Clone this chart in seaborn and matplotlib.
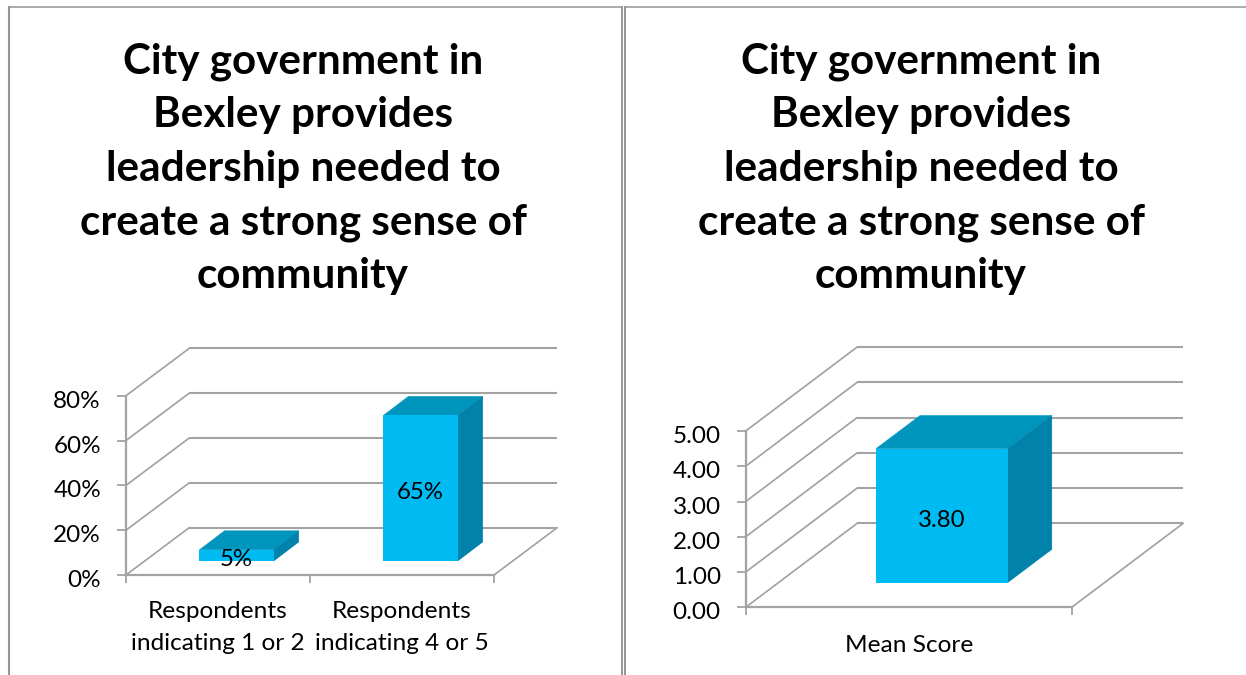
import matplotlib
matplotlib.use("Agg")
import matplotlib.pyplot as plt
import seaborn as sns
import pandas as pd
from matplotlib.lines import Line2D
from matplotlib.patches import Polygon
from matplotlib.transforms import Affine2D, IdentityTransform

W, H = 1246, 675
TITLE = "City government in\nBexley provides\nleadership needed to\ncreate a strong sense of\ncommunity"

left_categories = ["Respondents\nindicating 1 or 2", "Respondents\nindicating 4 or 5"]
left_values = [5, 65]
left_ticks = [0, 20, 40, 60, 80]
left_tick_labels = ["0%", "20%", "40%", "60%", "80%"]
left_bar_labels = ["5%", "65%"]

right_categories = ["Mean Score"]
right_values = [3.80]
right_ticks = [0, 1, 2, 3, 4, 5]
right_tick_labels = ["0.00", "1.00", "2.00", "3.00", "4.00", "5.00"]
right_bar_labels = ["3.80"]

FRONT, TOP, SIDE = "#00BBF2", "#0095BD", "#0082AA"
GRID = "#A3A3A3"
BORDER = "#959595"
FONT = "Lato"

sns.set_theme(style="white")
plt.rcParams["font.family"] = [FONT, "DejaVu Sans"]

fig = plt.figure(figsize=(W / 100, H / 100), dpi=100, facecolor="white")


def panel(cats, vals, ticks, tick_labels, bar_labels, box, wall, base, depth, title_x, xlab_pad):
    x0, x1, y_top, y_bot = box
    ax = fig.add_axes([x0 / W, 1 - y_bot / H, (x1 - x0) / W, (y_bot - y_top) / H])
    ax.patch.set_alpha(0)
    df = pd.DataFrame({"cat": cats, "val": vals})
    sns.barplot(data=df, x="cat", y="val", color=FRONT, saturation=1, width=0.404,
                ax=ax, linewidth=0, zorder=3)
    n = len(cats)
    ax.set_xlim(-0.5, n - 0.5)
    ax.set_ylim(ticks[0], ticks[-1])
    ax.set_xlabel("")
    ax.set_ylabel("")
    ax.autoscale(False)

    def shift(dx, dy):
        return ax.transData + Affine2D().translate(dx, dy)

    # back wall and floor
    xl, xr = -0.5, n - 0.5
    for t in ticks:
        ax.plot([xl, xr], [t, t], color=GRID, lw=1.5, transform=shift(*wall),
                clip_on=False, zorder=1, solid_capstyle="butt")
        a = ax.transData.transform((xl, t))
        fig.add_artist(Line2D([a[0], a[0] + wall[0]], [a[1], a[1] + wall[1]], color=GRID, lw=1.25,
                              transform=IdentityTransform(), zorder=1))
    a = ax.transData.transform((xr, ticks[0]))
    fig.add_artist(Line2D([a[0], a[0] + wall[0]], [a[1], a[1] + wall[1]], color=GRID, lw=1.25,
                          transform=IdentityTransform(), zorder=1))

    # bar solids
    for p, v, lab, i in zip(ax.patches, vals, bar_labels, range(n)):
        bx0, bx1 = p.get_x(), p.get_x() + p.get_width()
        p.set_transform(shift(*base))
        p.set_clip_on(False)
        t = shift(*base)
        fl = t.transform((bx0, v))
        fr = t.transform((bx1, v))
        br = t.transform((bx1, 0))
        dx, dy = depth
        ax.add_patch(Polygon([fl, fr, fr + (dx, dy), fl + (dx, dy)], closed=True, fc=TOP, ec=TOP, lw=0.3,
                             transform=IdentityTransform(), clip_on=False, zorder=2.9))
        ax.add_patch(Polygon([fr, br, br + (dx, dy), fr + (dx, dy)], closed=True, fc=SIDE, ec=SIDE, lw=0.3,
                             transform=IdentityTransform(), clip_on=False, zorder=2.9))
        ax.text(i, v / 2, lab, transform=shift(base[0], base[1] - 4.5), ha="center", va="center",
                fontsize=17.3, color="black", zorder=5, clip_on=False)

    # axes
    for s in ("top", "right"):
        ax.spines[s].set_visible(False)
    for s in ("left", "bottom"):
        ax.spines[s].set_color(GRID)
        ax.spines[s].set_linewidth(1.6)
    ax.set_yticks(ticks)
    ax.set_yticklabels(tick_labels)
    ax.tick_params(axis="y", length=6.5, width=1.3, color=GRID, left=True, pad=11.5,
                   labelsize=17.5, labelcolor="black")
    for lb in ax.get_yticklabels():
        lb.set_transform(lb.get_transform() + Affine2D().translate(0, -3.5))
    ax.set_xticks(range(n))
    ax.set_xticklabels(cats, linespacing=1.68)
    ax.set_xticks([k - 0.5 for k in range(n + 1)], minor=True)
    ax.tick_params(axis="x", which="major", length=0, pad=xlab_pad, labelsize=17.6, labelcolor="black")
    ax.tick_params(axis="x", which="minor", length=5.8, width=1.3, color=GRID, bottom=True)

    ax.set_title(TITLE, x=(title_x - x0) / (x1 - x0), y=(y_bot - 177) / (y_bot - y_top), va="center",
                 ha="center", fontsize=30.4, fontweight="bold", color="black", linespacing=1.495)
    return ax


panel(left_categories, left_values, left_ticks, left_tick_labels, left_bar_labels,
      box=(126, 494, 395.7, 575), wall=(63.2, 47.3), base=(18.6, 14), depth=(25, 19),
      title_x=303, xlab_pad=18.5)
panel(right_categories, right_values, right_ticks, right_tick_labels, right_bar_labels,
      box=(745.7, 1071.7, 431, 607.3), wall=(111.5, 84), base=(33, 24.6), depth=(44.3, 33.3),
      title_x=921, xlab_pad=20)


def hpx(x0, x1, y, lw):
    fig.add_artist(Line2D([x0 / W, x1 / W], [1 - y / H, 1 - y / H], color=BORDER, lw=lw,
                          solid_capstyle="butt"))


def vpx(x, y0, y1, lw):
    fig.add_artist(Line2D([x / W, x / W], [1 - y0 / H, 1 - y1 / H], color=BORDER, lw=lw,
                          solid_capstyle="butt"))


hpx(8, 622.5, 6.5, 1.1)
hpx(623.7, 1246, 6.5, 1.1)
vpx(9, 6, 675, 1.5)
vpx(621.5, 6, 675, 1.4)
vpx(624.8, 6, 675, 1.4)

fig.savefig("out.png", dpi=100, facecolor="white")
